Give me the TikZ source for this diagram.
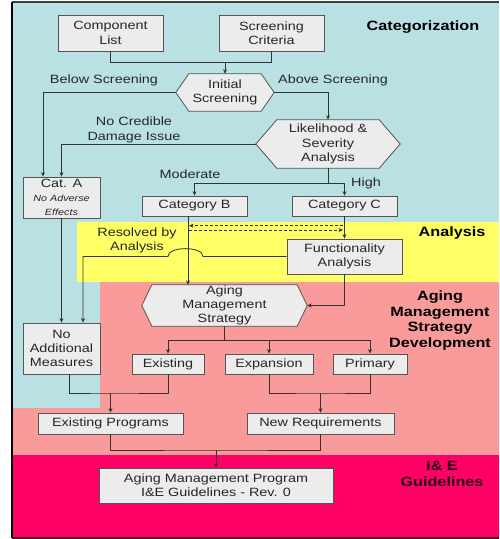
\documentclass[tikz,border=0pt]{standalone}
\usepackage{fontspec}
\setmainfont{Liberation Sans}[FakeStretch=1.2]
\usetikzlibrary{calc,arrows.meta}
\definecolor{catblue}{HTML}{B9E1E4}
\definecolor{anyellow}{HTML}{FFFF66}
\definecolor{amsalmon}{HTML}{FA9B9B}
\definecolor{iecrimson}{HTML}{FF0066}
\definecolor{boxfill}{HTML}{ECECEC}
\definecolor{boxline}{HTML}{555555}
\definecolor{ink}{HTML}{262626}
\definecolor{wire}{HTML}{333333}
\pgfdeclarelayer{bgl}
\pgfsetlayers{bgl,main}
\newcommand\myhex[2]{%
  \begin{pgfonlayer}{bgl}
  \path[hexshape] (#1.west) -- ($(#1.north west)+(#2,0)$) -- ($(#1.north east)+(-#2,0)$)
    -- (#1.east) -- ($(#1.south east)+(-#2,0)$) -- ($(#1.south west)+(#2,0)$) -- cycle;
  \end{pgfonlayer}}
\newcommand\smallit{\fontsize{9}{11.5}\selectfont\itshape}
\tikzset{
  txt/.style={font=\fontsize{12}{14.3}\selectfont, text=ink, align=center, inner sep=0pt},
  box/.style={txt, draw=boxline, fill=boxfill, line width=0.8pt},
  hexnode/.style={txt},
  hexshape/.style={draw=boxline, fill=boxfill, line width=0.8pt},
  lbl/.style={font=\fontsize{12}{14.3}\selectfont, text=ink, align=center, inner sep=0pt},
  zone/.style={font=\bfseries\fontsize{13.5}{15.7}\selectfont, text=black, align=center, inner sep=0pt},
  wireline/.style={draw=wire, line width=0.8pt},
  arr/.style={wireline, -{Stealth[length=4.5pt,width=4pt]}},
}
\begin{document}
\begin{tikzpicture}[x=1pt,y=-1pt]
\useasboundingbox (0,0) rectangle (499,539);
\begin{pgfonlayer}{bgl}
  \fill[white] (0,0) rectangle (499,539);
  \fill[catblue] (12,2) rectangle (499,455);
  \fill[anyellow] (77,222) rectangle (499,282);
  \fill[amsalmon] (100,282) -- (499,282) -- (499,455) -- (12,455) -- (12,408) -- (100,408) -- cycle;
  \fill[iecrimson] (12,455) rectangle (499,538);
  \draw[line width=1.2pt, draw=black!75] (12,2) -- (499,2);
  \draw[line width=1.6pt, draw=black] (12,2) -- (12,538);
  \draw[line width=1.5pt, draw={rgb,255:red,90;green,10;blue,40}] (12,538) -- (499,538);
\end{pgfonlayer}

% zone labels
\node[zone] (zcat) at (423,27) {Categorization};
\node[zone] (zana) at (452,233) {Analysis};
\node[zone] (zams) at (440,320.5) {Aging\\Management\\Strategy\\Development};
\node[zone, text={rgb,255:red,40;green,0;blue,20}] (zie) at (442,474) {I\& E\\Guidelines};

% boxes
\node[box, minimum width=105pt, minimum height=36pt] (cl) at (110.5,33) {Component\\List};
\node[box, minimum width=105pt, minimum height=36pt] (sc) at (271.5,33) {Screening\\Criteria};
\node[hexnode, minimum width=98pt, minimum height=37pt] (is) at (225,92.5) {Initial\\Screening};
\myhex{is}{13}
\node[hexnode, minimum width=144pt, minimum height=48pt] (ls) at (328,144) {Likelihood \&\\Severity\\Analysis};
\myhex{ls}{21}
\node[box, minimum width=77pt, minimum height=41pt] (ca) at (61.5,197.5) {Cat. A\\[-0.5pt]\smallit No Adverse\\\smallit Effects};
\node[box, minimum width=105pt, minimum height=20pt] (cb) at (194.5,206) {Category B};
\node[box, minimum width=105pt, minimum height=20pt] (cc) at (344.5,206) {Category C};
\node[box, minimum width=115pt, minimum height=35pt] (fa) at (344.5,256.5) {Functionality\\Analysis};
\node[hexnode, minimum width=165pt, minimum height=41pt] (am) at (224.5,305.5) {Aging\\Management\\Strategy};
\myhex{am}{10}
\node[box, minimum width=77pt, minimum height=51pt] (nm) at (61.5,348.5) {No\\Additional\\Measures};
\node[box, minimum width=72pt, minimum height=20pt] (ex) at (168,364) {Existing};
\node[box, minimum width=88pt, minimum height=20pt] (xp) at (269,364) {Expansion};
\node[box, minimum width=74pt, minimum height=20pt] (pr) at (370,364) {Primary};
\node[box, minimum width=145pt, minimum height=21pt] (ep) at (110.5,423.5) {Existing Programs};
\node[box, minimum width=147pt, minimum height=21pt] (nr) at (320.5,423.5) {New Requirements};
\node[box, minimum width=234pt, minimum height=35pt] (amp) at (216,485.5) {Aging Management Program\\I\&E Guidelines - Rev. 0};

% connector labels
\node[lbl] (lbs) at (104,80) {Below Screening};
\node[lbl] (las) at (333,80) {Above Screening};
\node[lbl] (lnc) at (134,130) {No Credible\\Damage Issue};
\node[lbl] (lmo) at (190,174) {Moderate};
\node[lbl] (lhi) at (366,183) {High};
\node[lbl] (lra) at (137,240.5) {Resolved by\\Analysis};

% helper coordinates
\coordinate (j1) at (225,62);
\coordinate (j2) at (328,183);
\coordinate (x43) at (43,0);
\coordinate (x83) at (83,0);
\coordinate (x188) at (188,0);
\coordinate (x69) at (69,0);
\coordinate (d1r) at (343,225.7);
\coordinate (d1l) at (189,225.7);
\coordinate (d2l) at (189,230);
\coordinate (d2r) at (343,230);
\coordinate (hopR) at (203,256.5);
\coordinate (hopL) at (168,256.5);
\coordinate (j4) at (224.5,340);
\coordinate (j5) at (110.5,393);
\coordinate (j6) at (320.5,393);
\coordinate (j7) at (216,450);

% connectors
\draw[wireline] (cl.south) |- (j1);
\draw[wireline] (sc.south) |- (j1);
\draw[arr] (j1) -- (is.north);
\draw[arr] (is.west) -| (ca.north -| x43);
\draw[arr] (is.east) -| (ls.north);
\draw[arr] (ls.west) -| (ca.north);
\draw[wireline] (ls.south) -- (j2);
\draw[arr] (j2) -| (cb.north);
\draw[arr] (j2) -| (cc.north);
\draw[arr] (ca.south) -- (nm.north);
\draw[arr] (cb.south -| x188) -- (am.north -| x188);
\draw[arr, dashed, dash pattern=on 3pt off 2pt] (d1r) -- (d1l);
\draw[arr, dashed, dash pattern=on 3pt off 2pt] (d2l) -- (d2r);
\draw[arr] (cc.south) -- (fa.north);
\draw[arr] (fa.west) -- (hopR) .. controls (203,246) and (168,246) .. (hopL) -- (x83 |- fa.west) -- (nm.north -| x83);
\draw[arr] (fa.south) |- (am.east);
\draw[wireline] (am.south) -- (j4);
\draw[arr] (j4) -| (ex.north);
\draw[arr] (j4) -| (pr.north);
\draw[arr] (xp.north |- j4) -- (xp.north);
\draw[wireline] (nm.south -| x69) |- (j5) -| (ex.south);
\draw[arr] (j5) -- (ep.north);
\draw[wireline] (xp.south) |- (j6) -| (pr.south);
\draw[arr] (j6) -- (nr.north);
\draw[wireline] (ep.south) |- (j7) -| (nr.south);
\draw[arr] (j7) -- (amp.north);
\end{tikzpicture}
\end{document}
